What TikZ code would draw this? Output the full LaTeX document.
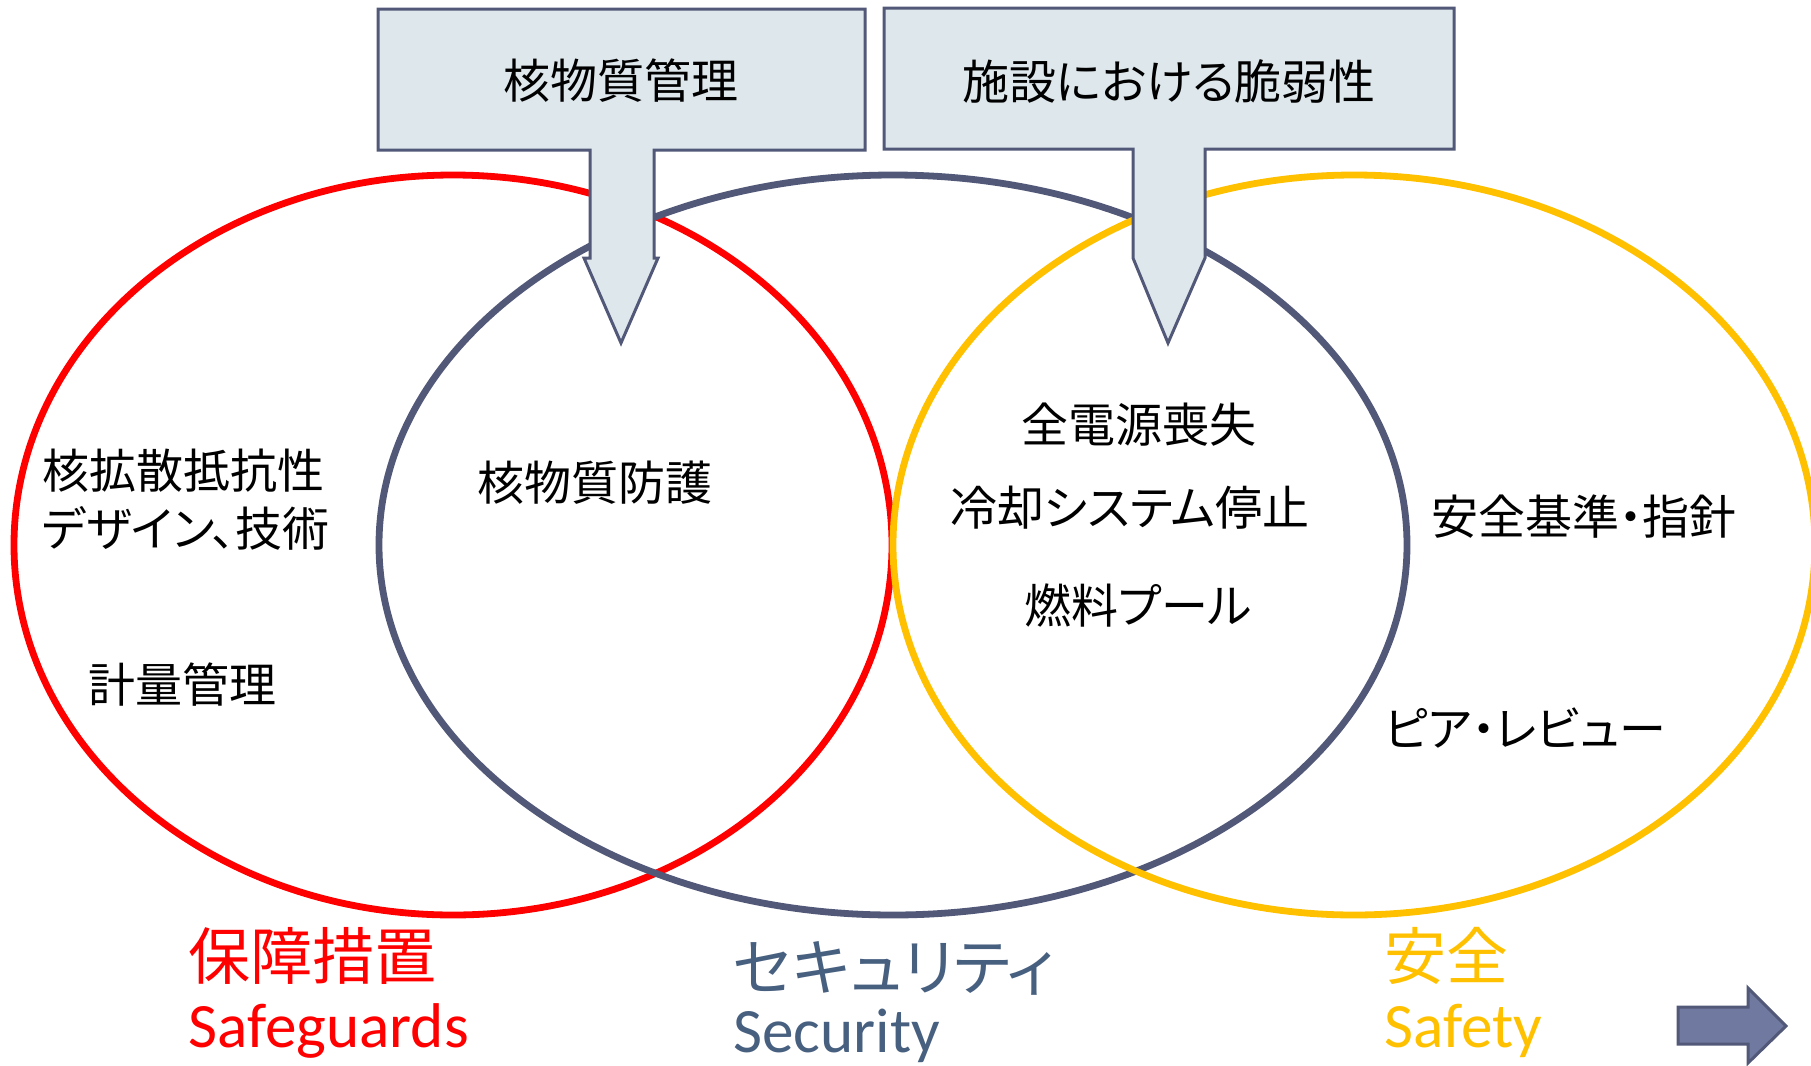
\documentclass[tikz,border=0pt]{standalone}
\usepackage{fontspec}
\setmainfont[RawFeature=+palt]{Noto Sans CJK JP}
\newfontfamily\lat{Carlito}
\definecolor{cred}{RGB}{255,0,0}
\definecolor{cgray}{RGB}{82,88,120}
\definecolor{cyel}{RGB}{255,192,0}
\definecolor{cblue}{RGB}{72,96,128}
\definecolor{boxfill}{RGB}{222,232,236}
\definecolor{arrfill}{RGB}{112,122,160}
\tikzset{
  ring/.style={line width=3.4pt},
  callout/.style={draw=cgray,fill=boxfill,line width=1.5pt,line join=miter},
  lbl/.style={inner sep=0pt,font=\fontsize{23.5pt}{29pt}\selectfont},
  big/.style={inner sep=0pt,font=\fontsize{31pt}{36pt}\selectfont},
  latbig/.style={inner sep=0pt,font=\fontsize{31.6pt}{36pt}\selectfont\lat},
}
\begin{document}
\begin{tikzpicture}[x=0.5pt,y=-0.5pt]
\useasboundingbox (0,0) rectangle (1811,1066);
% ellipses
\draw[ring,cred] (453,545) ellipse [x radius=439, y radius=370];
\draw[ring,cgray] (893,545) ellipse [x radius=514, y radius=370];
\draw[ring,cyel] (1354,545) ellipse [x radius=461, y radius=370];
% callouts
\draw[callout] (378,9) -- (865,9) -- (865,150) -- (654,150) -- (654,258) -- (658,258)
  -- (621,343) -- (584,258) -- (590,258) -- (590,150) -- (378,150) -- cycle;
\draw[callout] (884,8) -- (1454,8) -- (1454,149) -- (1205,149) -- (1205,258)
  -- (1168,343) -- (1133,258) -- (1133,149) -- (884,149) -- cycle;
\node[lbl] (c1) at (621,81) {核物質管理};
\node[lbl] (c2) at (1169,81) {施設における脆弱性};
% inner texts
\node[lbl,anchor=west,align=left] (t1) at (42,500) {核拡散抵抗性\\デザイン、技術};
\node[lbl,anchor=west] (t2) at (88,685) {計量管理};
\node[lbl] (t3) at (595,483) {核物質防護};
\node[lbl] (t4) at (1139,425) {全電源喪失};
\node[lbl] (t5) at (1130,508) {冷却システム停止};
\node[lbl] (t6) at (1138,606) {燃料プール};
\node[lbl,anchor=west] (t7) at (1431,517) {安全基準・指針};
\node[lbl,anchor=west] (t8) at (1384,728) {ピア・レビュー};
% titles
\node[big,cred,anchor=west] (s1) at (188,956) {保障措置};
\node[latbig,cred,anchor=west] (s2) at (188,1031) {Safeguards};
\node[big,cblue,anchor=west] (s3) at (733,968) {セキュリティ};
\node[latbig,cblue,anchor=west] (s4) at (733,1036) {Security};
\node[big,cyel,anchor=west] (s5) at (1384,956) {安全};
\node[latbig,cyel,anchor=west] (s6) at (1384,1031) {Safety};
% arrow
\draw[draw=cgray,fill=arrfill,line width=1.5pt] (1678,1007) -- (1748,1007) -- (1748,988)
  -- (1786,1026) -- (1748,1063) -- (1748,1044) -- (1678,1044) -- cycle;
\end{tikzpicture}
\end{document}
